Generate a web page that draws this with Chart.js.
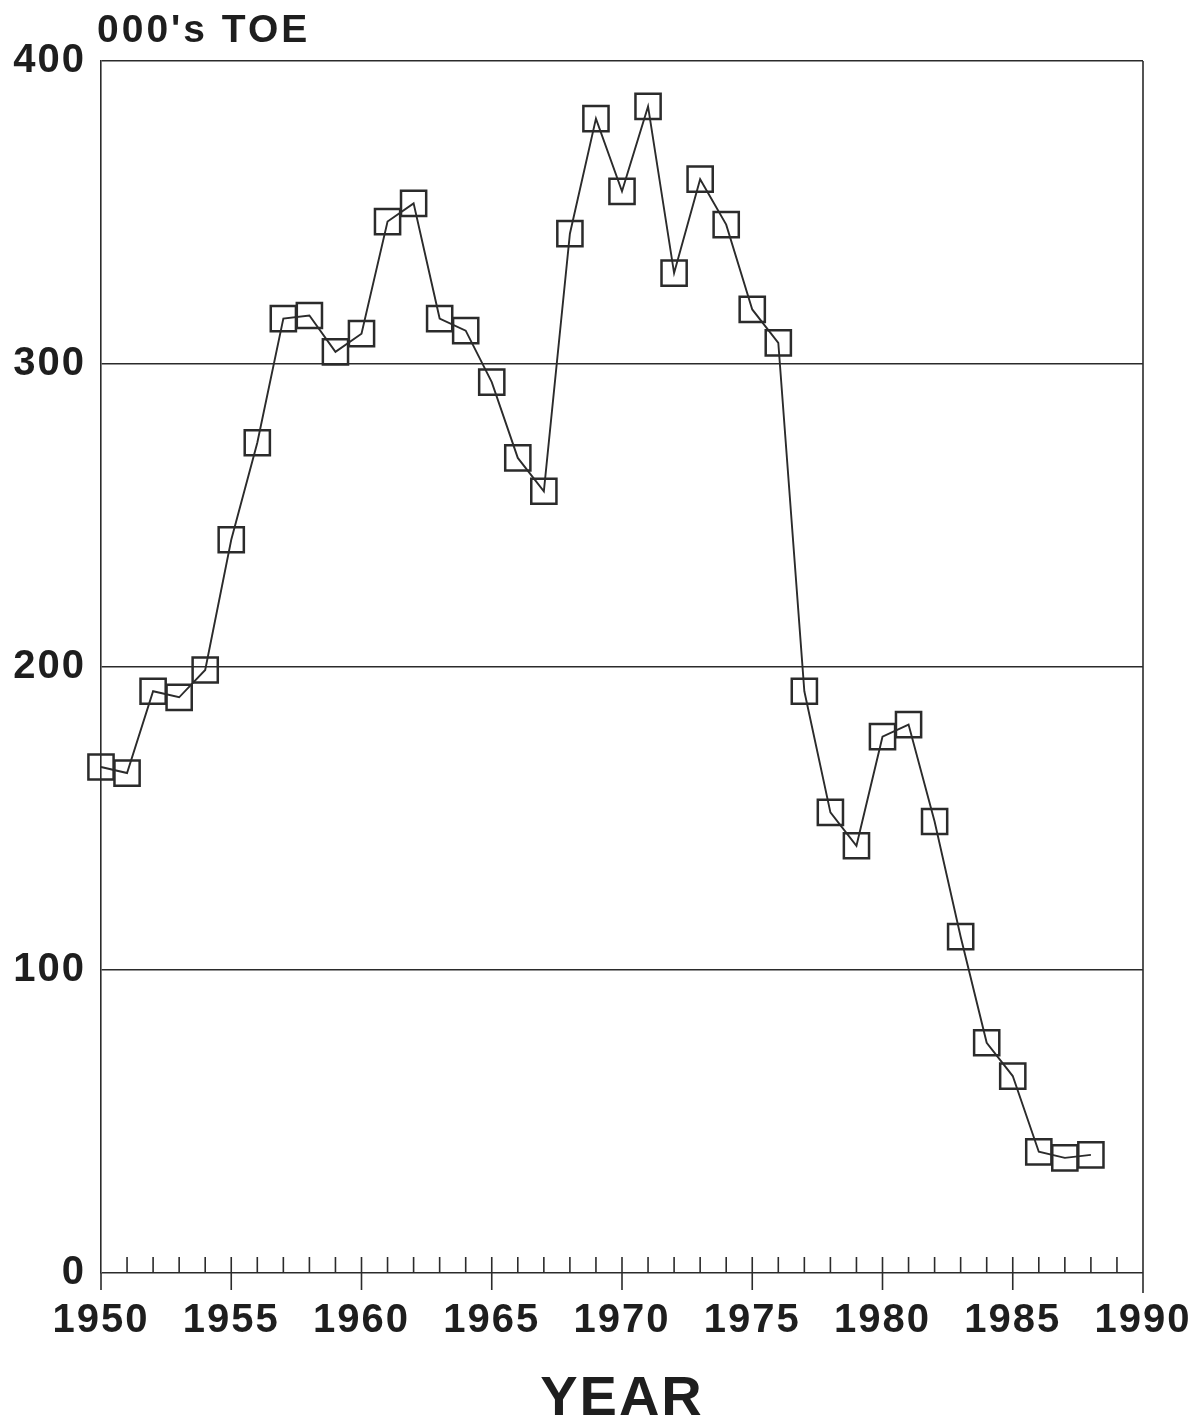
<!DOCTYPE html>
<html>
<head>
<meta charset="utf-8">
<title>000's TOE by year</title>
<script src="https://cdn.jsdelivr.net/npm/chart.js@4/dist/chart.umd.min.js"></script>
<style>
  html, body { margin: 0; padding: 0; background: #ffffff; }
  #wrap { width: 1201px; height: 1428px; position: relative; }
  canvas { display: block; }
</style>
</head>
<body>
<div id="wrap"><canvas id="chart" width="1201" height="1428"></canvas></div>
<script>
// Annual values, thousand tonnes of oil equivalent
const years = [1950, 1951, 1952, 1953, 1954, 1955, 1956, 1957, 1958, 1959,
               1960, 1961, 1962, 1963, 1964, 1965, 1966, 1967, 1968, 1969,
               1970, 1971, 1972, 1973, 1974, 1975, 1976, 1977, 1978, 1979,
               1980, 1981, 1982, 1983, 1984, 1985, 1986, 1987, 1988];
const toe = [167, 165, 192, 190, 199, 242, 274, 315, 316, 304,
             310, 347, 353, 315, 311, 294, 269, 258, 343, 381,
             357, 385, 330, 361, 346, 318, 307, 192, 152, 141,
             177, 181, 149, 111, 76, 65, 40, 38, 39];

// Axis settings
const yMin = 0, yMax = 400, yStep = 100;
const xMin = 1950, xMax = 1990, xLabelStep = 5;
const yUnitLabel = "000's TOE";
const xTitle = 'YEAR';

const ink = '#2b2b2b';
const textInk = '#1e1e1e';
const tickFont = { family: "'Liberation Sans', Arial, sans-serif", size: 40, weight: 'bold', lineHeight: 1.2 };

// Frame, yearly tick marks and unit caption
const framePlugin = {
  id: 'frame',
  beforeDraw(chart) {
    chart.ctx.letterSpacing = '2px';
  },
  afterDraw(chart) {
    const ctx = chart.ctx;
    const { left, right, top, bottom } = chart.chartArea;
    const xs = chart.scales.x;
    ctx.save();
    ctx.strokeStyle = ink;
    ctx.lineWidth = 1.6;
    // right border and left axis run a little below the baseline
    ctx.beginPath();
    ctx.moveTo(right, top);
    ctx.lineTo(right, bottom + 20);
    ctx.moveTo(left, bottom);
    ctx.lineTo(left, bottom + 17);
    ctx.stroke();
    // one tick per year, longer ones every five years
    ctx.beginPath();
    for (let yr = xMin + 1; yr < xMax; yr++) {
      const px = xs.getPixelForValue(yr);
      ctx.moveTo(px, bottom - 16);
      ctx.lineTo(px, bottom + ((yr % xLabelStep === 0) ? 17 : 0));
    }
    ctx.stroke();
    // unit caption above the value axis
    ctx.fillStyle = textInk;
    ctx.font = "bold 39px 'Liberation Sans', Arial, sans-serif";
    ctx.letterSpacing = '3px';
    ctx.textAlign = 'left';
    ctx.textBaseline = 'alphabetic';
    ctx.fillText(yUnitLabel, 97, 42);
    ctx.restore();
  }
};

new Chart(document.getElementById('chart'), {
  type: 'line',
  data: {
    datasets: [{
      data: years.map((yr, i) => ({ x: yr, y: toe[i] })),
      borderColor: ink,
      borderWidth: 1.9,
      tension: 0,
      clip: false,
      pointStyle: 'rect',
      pointRadius: 17.8,
      pointHoverRadius: 17.8,
      pointBorderWidth: 2.5,
      pointBorderColor: ink,
      pointBackgroundColor: 'rgba(0,0,0,0)'
    }]
  },
  options: {
    responsive: false,
    animation: false,
    devicePixelRatio: 1,
    layout: { padding: { top: 61, right: 58, bottom: 0, left: 0 } },
    plugins: {
      legend: { display: false },
      tooltip: { enabled: false },
      title: { display: false }
    },
    scales: {
      x: {
        type: 'linear',
        min: xMin,
        max: xMax,
        afterFit(scale) {
          scale.height = 155;
          scale.paddingLeft = 0;
          scale.paddingRight = 0;
        },
        grid: { display: false, drawTicks: false },
        border: { display: false },
        ticks: {
          stepSize: xLabelStep,
          autoSkip: false,
          maxRotation: 0,
          padding: 24,
          color: textInk,
          font: tickFont,
          callback: v => String(v)
        },
        title: {
          display: true,
          text: xTitle,
          color: textInk,
          font: { family: "'Liberation Sans', Arial, sans-serif", size: 56, weight: 'bold', lineHeight: 1 },
          padding: { top: 0, bottom: 0 }
        }
      },
      y: {
        min: yMin,
        max: yMax,
        afterFit(scale) {
          scale.width = 101;
          scale.paddingTop = 0;
          scale.paddingBottom = 0;
        },
        grid: { color: ink, lineWidth: 1.6, drawTicks: false },
        border: { display: true, color: ink, width: 1.6 },
        ticks: {
          stepSize: yStep,
          padding: 15,
          color: textInk,
          font: tickFont,
          callback: v => String(v)
        }
      }
    }
  },
  plugins: [framePlugin]
});
</script>
</body>
</html>
